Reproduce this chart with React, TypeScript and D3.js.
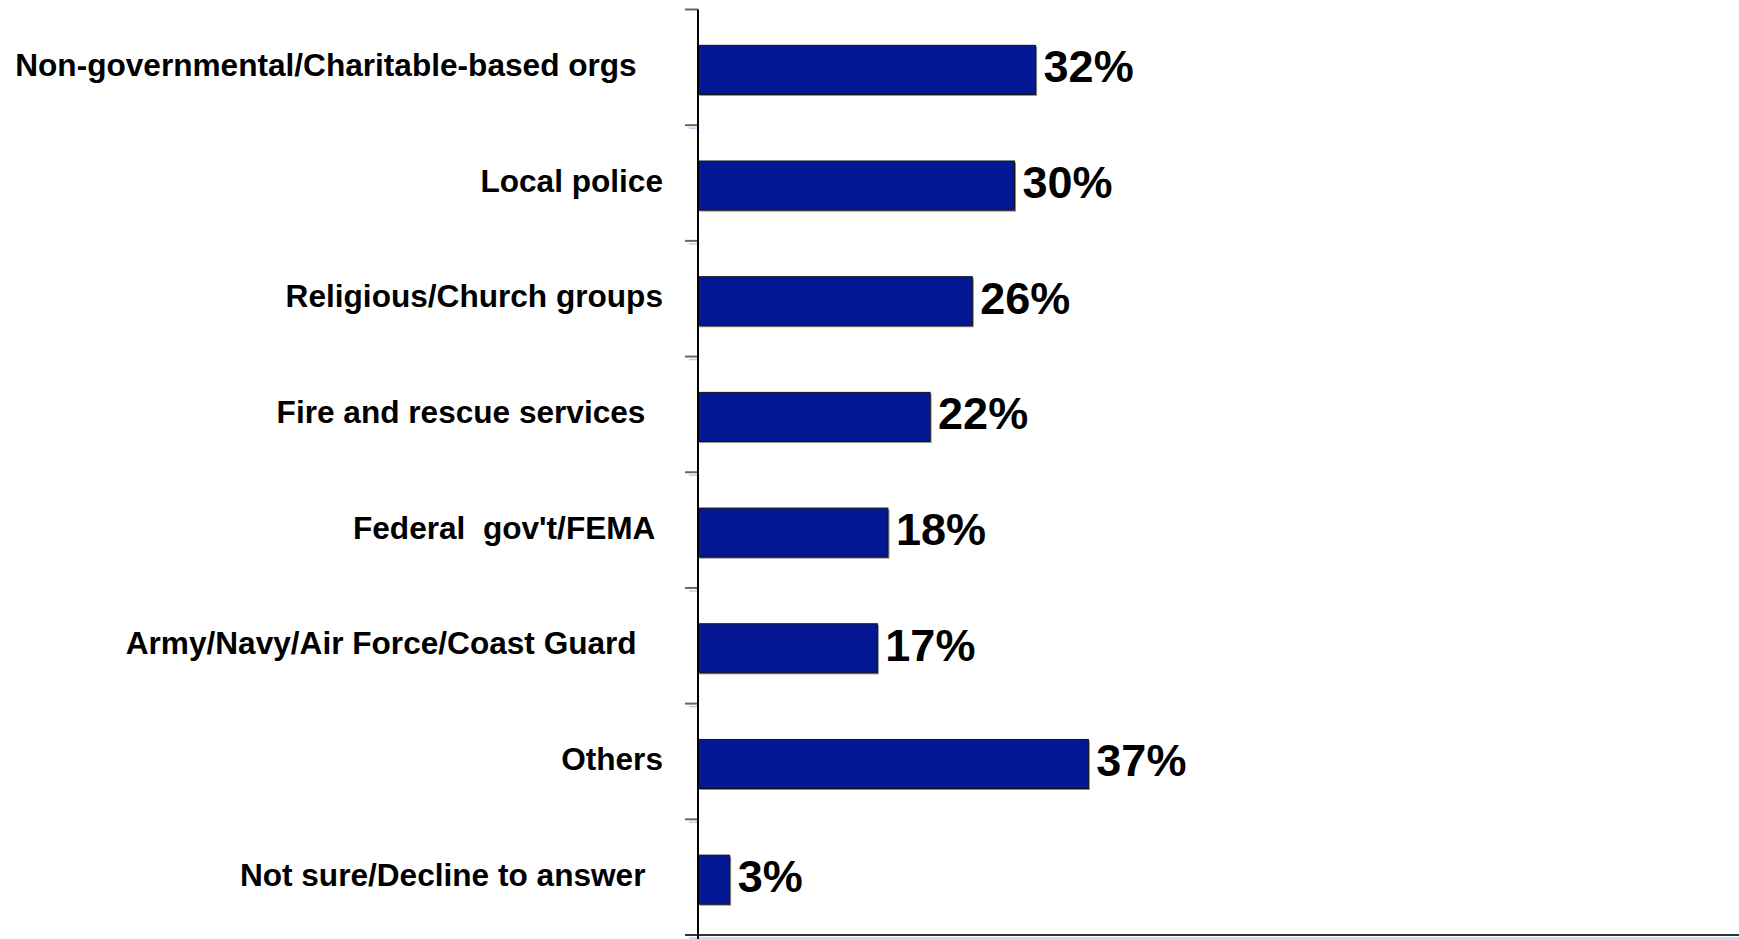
import React from "react";
import * as d3 from "d3";

const categories = [
  "Non-governmental/Charitable-based orgs   ",
  "Local police",
  "Religious/Church groups",
  "Fire and rescue services  ",
  "Federal  gov't/FEMA ",
  "Army/Navy/Air Force/Coast Guard   ",
  "Others",
  "Not sure/Decline to answer  ",
];
const values = [32, 30, 26, 22, 18, 17, 37, 3];
const valueLabels = ["32%", "30%", "26%", "22%", "18%", "17%", "37%", "3%"];

const W = 1739;
const H = 939;
const axisX = 698;
const top = 9.5;
const bottom = 935;
const barColor = "#041894";
const font = "'Liberation Sans', Arial, Helvetica, sans-serif";

export default function App() {
  const y = d3
    .scaleBand<string>()
    .domain(categories)
    .range([top, bottom])
    .paddingInner(0.576)
    .paddingOuter(0.288);
  const x = d3.scaleLinear().domain([0, 100]).range([axisX, axisX + 1055]);
  const step = y.step();
  const boundaries = d3.range(categories.length + 1).map((i) => top + i * step);

  return (
    <div style={{ position: "absolute", left: 0, top: 0 }}>
      <svg width={W} height={H} style={{ display: "block", background: "#fff" }}>
        {/* tick marks */}
        {boundaries.slice(0, -1).map((b, i) => (
          <g key={"t" + i}>
            {i > 0 && (
              <line x1={689} x2={axisX} y1={b + 3} y2={b + 3} stroke="#c8c8ec" strokeWidth={1.5} />
            )}
            <line x1={685} x2={axisX} y1={b} y2={b} stroke="#666" strokeWidth={2} />
          </g>
        ))}
        {/* bottom axis */}
        <line x1={689} x2={W} y1={bottom + 3} y2={bottom + 3} stroke="#c8c8ec" strokeWidth={1.5} />
        <line x1={685} x2={W} y1={bottom} y2={bottom} stroke="#333" strokeWidth={2} />
        {/* bars */}
        {categories.map((c, i) => {
          const by = (y(c) as number) + 2.5;
          const bh = y.bandwidth();
          const bw = x(values[i]) - axisX;
          return (
            <g key={"b" + i}>
              <rect x={axisX + 1.5} y={by + 1.5} width={bw} height={bh} fill="#8a8a8a" />
              <rect x={axisX} y={by} width={bw} height={bh} fill={barColor} stroke="#111" strokeWidth={1} />
            </g>
          );
        })}
        {/* vertical axis */}
        <line x1={axisX} x2={axisX} y1={top} y2={H} stroke="#000" strokeWidth={2} />
        {/* category labels */}
        {categories.map((c, i) => (
          <text
            key={"l" + i}
            x={663}
            y={(y(c) as number) + y.bandwidth() / 2 + 8.5}
            textAnchor="end"
            fontFamily={font}
            fontWeight="bold"
            fontSize={31.6}
            fill="#000"
            style={{ whiteSpace: "pre" }}
          >
            {c}
          </text>
        ))}
        {/* value labels */}
        {categories.map((c, i) => (
          <text
            key={"v" + i}
            x={x(values[i]) + 8}
            y={(y(c) as number) + y.bandwidth() / 2 + 15}
            fontFamily={font}
            fontWeight="bold"
            fontSize={45}
            fill="#000"
          >
            {valueLabels[i]}
          </text>
        ))}
      </svg>
    </div>
  );
}
